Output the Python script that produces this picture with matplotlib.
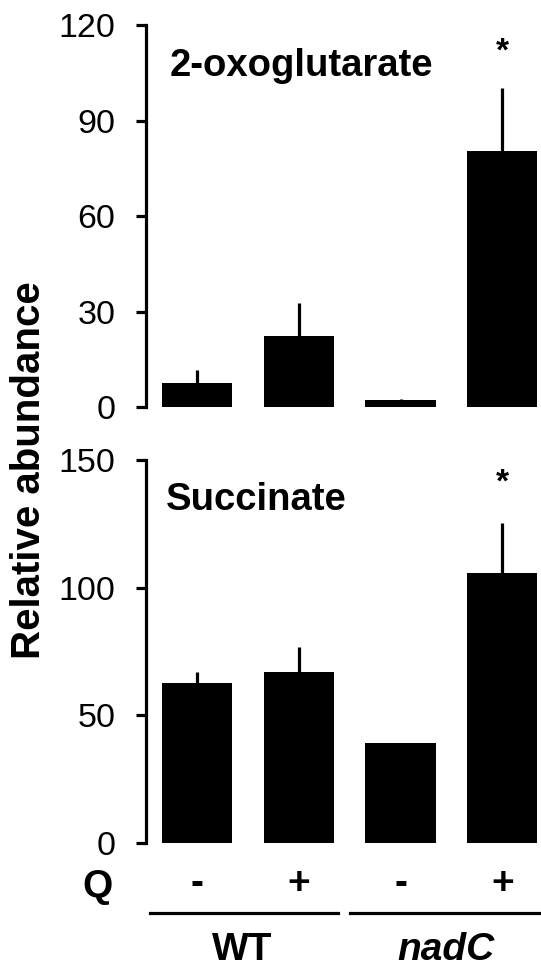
import matplotlib
matplotlib.use('Agg')
import matplotlib.pyplot as plt
from matplotlib.lines import Line2D
import matplotlib.transforms as mtransforms

plt.rcParams['font.family'] = ['Liberation Sans', 'DejaVu Sans']

# Daten
BEDINGUNGEN = ['WT -', 'WT +', 'nadC -', 'nadC +']
Q_ZEICHEN = ['-', '+', '-', '+']
GRUPPEN = ['WT', 'nadC']

OXO_WERTE = [7.5, 22.3, 2.2, 80.4]
OXO_FEHLER = [4.1, 10.4, 0.3, 19.9]
OXO_STERN = [False, False, False, True]

SUCC_WERTE = [62.7, 66.8, 39.2, 105.9]
SUCC_FEHLER = [4.1, 10.1, 0.0, 19.6]
SUCC_STERN = [False, False, False, True]

W, H = 541, 968
fig = plt.figure(figsize=(W / 100, H / 100), dpi=100)

def px_rect(links, oben, rechts, unten):
    return [links / W, 1 - unten / H, (rechts - links) / W, (unten - oben) / H]

ax1 = fig.add_axes(px_rect(146, 25, 541, 407.3))
ax2 = fig.add_axes(px_rect(146, 460, 541, 843))

def panel(ax, werte, fehler, sterne, ymax, ticks, titel, titel_xy, stern_y):
    x = list(range(len(werte)))
    ax.bar(x, werte, width=0.69, color='black', zorder=2)
    for xi, w, f in zip(x, werte, fehler):
        if f > 0:
            ax.vlines(xi, w, w + f, color='black', lw=2.3, zorder=1)
    for xi, s in zip(x, sterne):
        if s:
            ax.text(xi, stern_y, '*', ha='center', va='center', fontsize=24, fontweight='bold')
    ax.set_xlim(-0.5, 3.38)
    ax.set_ylim(0, ymax)
    ax.set_yticks(ticks)
    ax.set_xticks([])
    for s in ['top', 'right', 'bottom']:
        ax.spines[s].set_visible(False)
    ax.spines['left'].set_linewidth(2.3)
    ax.tick_params(axis='y', length=7, width=2.3, pad=15, labelsize=24.5)
    ax.text(titel_xy[0], titel_xy[1], titel, transform=ax.transAxes,
            fontsize=27.5, fontweight='bold', ha='left', va='center')

panel(ax1, OXO_WERTE, OXO_FEHLER, OXO_STERN, 120, [0, 30, 60, 90, 120],
      '2-oxoglutarate', ((170 - 146) / 395, 1 - (66 - 25) / 382.3), 111.5)
panel(ax2, SUCC_WERTE, SUCC_FEHLER, SUCC_STERN, 150, [0, 50, 100, 150],
      'Succinate', ((166 - 146) / 395, 1 - (500 - 460) / 383), 141)

# Y-Achsenbeschriftung
fig.text(29 / W, 1 - 470 / H, 'Relative abundance', rotation=90,
         ha='center', va='center', fontsize=29, fontweight='bold')

# Q-Zeile
trans = mtransforms.blended_transform_factory(ax2.transData, fig.transFigure)
fig.text(98 / W, 1 - 887 / H, 'Q', ha='center', va='center', fontsize=28, fontweight='bold')
for xi, z in enumerate(Q_ZEICHEN):
    ax2.text(xi, 1 - 884 / H, z, transform=trans, ha='center', va='center',
             fontsize=28, fontweight='bold')

# Gruppenlinien
y_linie = 1 - 913 / H
fig.add_artist(Line2D([150 / W, 338 / W], [y_linie, y_linie], color='black', lw=2.3))
fig.add_artist(Line2D([350 / W, 541 / W], [y_linie, y_linie], color='black', lw=2.3))
fig.text(242 / W, 1 - 950 / H, GRUPPEN[0], ha='center', va='center', fontsize=28, fontweight='bold')
fig.text(446 / W, 1 - 950 / H, GRUPPEN[1], ha='center', va='center', fontsize=28,
         fontweight='bold', fontstyle='italic')

fig.savefig('out.png', dpi=100)
